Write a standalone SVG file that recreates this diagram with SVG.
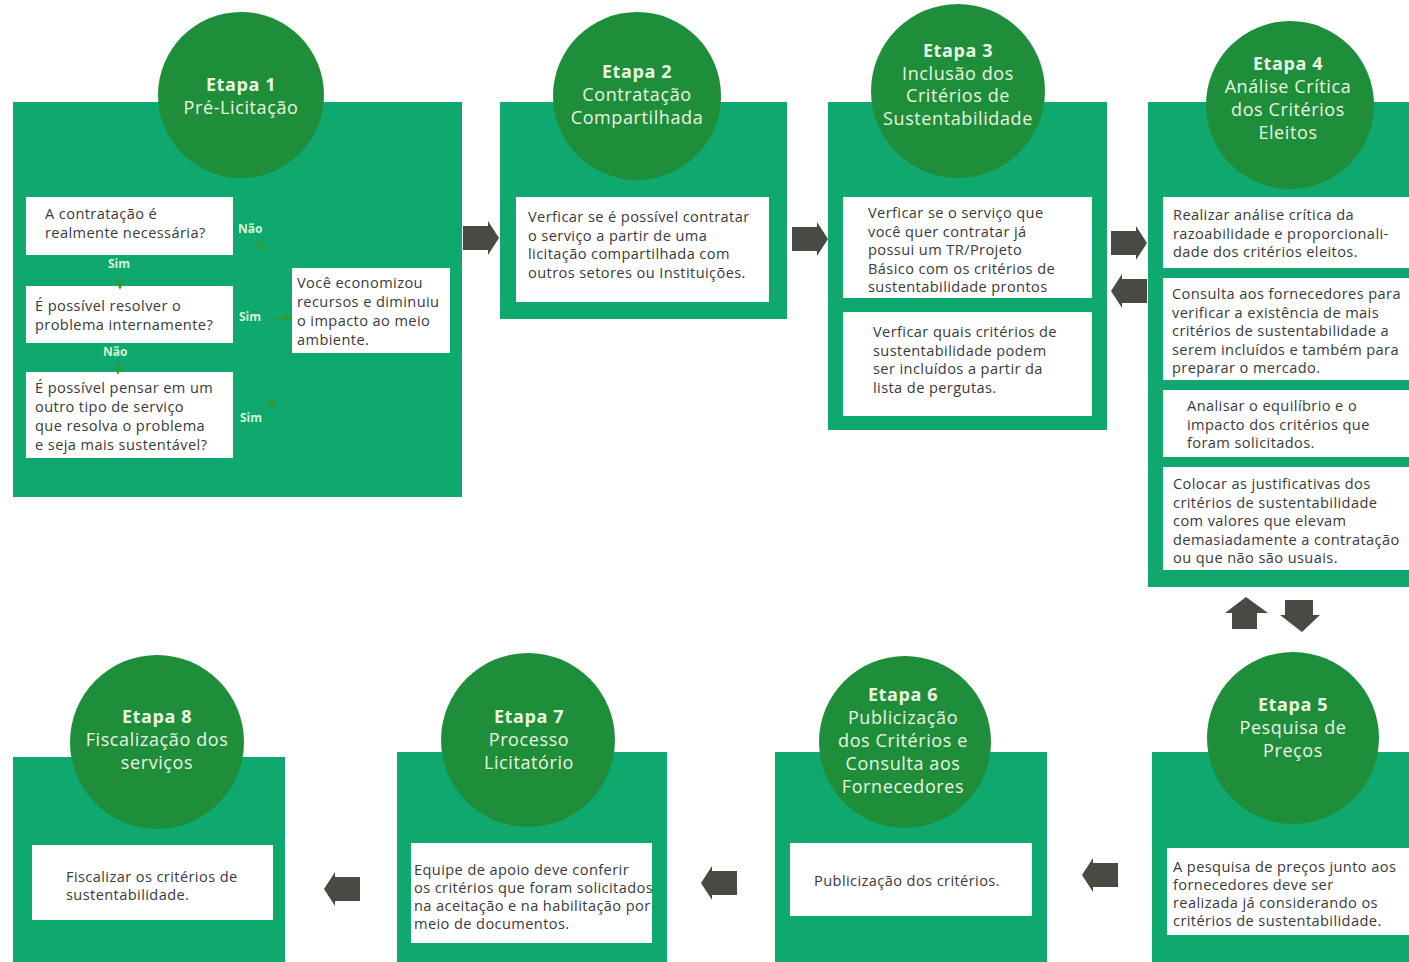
<svg xmlns="http://www.w3.org/2000/svg" xmlns:xlink="http://www.w3.org/1999/xlink" width="1409" height="962" viewBox="0 0 1409 962">
<style>
.panel{fill:#0fa96f}
.circ{fill:#1f8e3b}
.box{fill:#ffffff}
.t{font-family:"Open Sans","Noto Sans",sans-serif;font-size:14.6px;letter-spacing:0.4px;fill:#3a3a3a}
.h{font-family:"Open Sans","Noto Sans",sans-serif;font-size:18px;letter-spacing:0.6px;fill:#eaf7e2;text-anchor:middle}
.hb{font-weight:bold}
.lbl{font-family:"Open Sans","Noto Sans",sans-serif;font-size:12px;font-weight:bold;fill:#d9f3d2}
.arr{fill:#4a4a44}
.mini{stroke:#2e9a3a;stroke-width:1.5;fill:none}
</style>
<defs>
<path id="ar" d="M0,5 H25 V0 L36,17 L25,34 V29 H0 Z"/>
<marker id="mh" viewBox="0 0 10 10" refX="8" refY="5" markerWidth="6" markerHeight="6" orient="auto">
<path d="M0,0 L10,5 L0,10 Z" fill="#2e9a3a"/>
</marker>
</defs>
<rect width="1409" height="962" fill="#ffffff"/>

<g id="etapa1">
<rect class="panel" x="13" y="102" width="449" height="395"/>
<circle class="circ" cx="241" cy="95" r="83"/>
<text class="h" x="241" y="91"><tspan class="hb">Etapa 1</tspan><tspan x="241" dy="23">Pré-Licitação</tspan></text>
<rect class="box" x="26" y="197" width="207" height="58"/>
<text class="t" x="45" y="219">A contratação é<tspan x="45" dy="19">realmente necessária?</tspan></text>
<rect class="box" x="26" y="286" width="207" height="57"/>
<text class="t" x="35" y="311">É possível resolver o<tspan x="35" dy="19">problema internamente?</tspan></text>
<rect class="box" x="26" y="372" width="207" height="86"/>
<text class="t" x="35" y="393">É possível pensar em um<tspan x="35" dy="19">outro tipo de serviço</tspan><tspan x="35" dy="19">que resolva o problema</tspan><tspan x="35" dy="19">e seja mais sustentável?</tspan></text>
<rect class="box" x="292" y="268" width="158" height="85"/>
<text class="t" x="297" y="288">Você economizou<tspan x="297" dy="19">recursos e diminuiu</tspan><tspan x="297" dy="19">o impacto ao meio</tspan><tspan x="297" dy="19">ambiente.</tspan></text>
<text class="lbl" x="238" y="233">Não</text>
<text class="lbl" x="108" y="268">Sim</text>
<text class="lbl" x="239" y="321">Sim</text>
<text class="lbl" x="103" y="356">Não</text>
<text class="lbl" x="240" y="422">Sim</text>
</g>

<g id="etapa2">
<rect class="panel" x="500" y="102" width="287" height="217"/>
<circle class="circ" cx="637" cy="96" r="84"/>
<text class="h" x="637" y="78"><tspan class="hb">Etapa 2</tspan><tspan x="637" dy="23">Contratação</tspan><tspan x="637" dy="22.5">Compartilhada</tspan></text>
<rect class="box" x="516" y="197" width="253" height="105"/>
<text class="t" x="528" y="222">Verficar se é possível contratar<tspan x="528" dy="18.5">o serviço a partir de uma</tspan><tspan x="528" dy="18.5">licitação compartilhada com</tspan><tspan x="528" dy="18.5">outros setores ou Instituições.</tspan></text>
</g>

<g id="etapa3">
<rect class="panel" x="828" y="102" width="279" height="328"/>
<circle class="circ" cx="958" cy="91" r="87"/>
<text class="h" x="958" y="57"><tspan class="hb">Etapa 3</tspan><tspan x="958" dy="22.5">Inclusão dos</tspan><tspan x="958" dy="22.5">Critérios de</tspan><tspan x="958" dy="22.5">Sustentabilidade</tspan></text>
<rect class="box" x="843" y="197" width="249" height="101"/>
<text class="t" x="868" y="218">Verficar se o serviço que<tspan x="868" dy="18.5">você quer contratar já</tspan><tspan x="868" dy="18.5">possui um TR/Projeto</tspan><tspan x="868" dy="18.5">Básico com os critérios de</tspan><tspan x="868" dy="18.5">sustentabilidade prontos</tspan></text>
<rect class="box" x="843" y="312" width="249" height="104"/>
<text class="t" x="873" y="337">Verficar quais critérios de<tspan x="873" dy="18.5">sustentabilidade podem</tspan><tspan x="873" dy="18.5">ser incluídos a partir da</tspan><tspan x="873" dy="18.5">lista de pergutas.</tspan></text>
</g>

<g id="etapa4">
<rect class="panel" x="1148" y="102" width="261" height="485"/>
<circle class="circ" cx="1290" cy="105" r="84"/>
<text class="h" x="1288" y="70"><tspan class="hb">Etapa 4</tspan><tspan x="1288" dy="23">Análise Crítica</tspan><tspan x="1288" dy="23">dos Critérios</tspan><tspan x="1288" dy="22.5">Eleitos</tspan></text>
<rect class="box" x="1163" y="197" width="246" height="71"/>
<text class="t" x="1173" y="220">Realizar análise crítica da<tspan x="1173" dy="18.5">razoabilidade e proporcionali-</tspan><tspan x="1173" dy="18.5">dade dos critérios eleitos.</tspan></text>
<rect class="box" x="1163" y="278" width="246" height="102"/>
<text class="t" x="1172" y="299">Consulta aos fornecedores para<tspan x="1172" dy="18.5">verificar a existência de mais</tspan><tspan x="1172" dy="18.5">critérios de sustentabilidade a</tspan><tspan x="1172" dy="18.5">serem incluídos e também para</tspan><tspan x="1172" dy="18.5">preparar o mercado.</tspan></text>
<rect class="box" x="1163" y="390" width="246" height="67"/>
<text class="t" x="1187" y="411">Analisar o equilíbrio e o<tspan x="1187" dy="18.5">impacto dos critérios que</tspan><tspan x="1187" dy="18.5">foram solicitados.</tspan></text>
<rect class="box" x="1163" y="467" width="246" height="103"/>
<text class="t" x="1173" y="489">Colocar as justificativas dos<tspan x="1173" dy="18.5">critérios de sustentabilidade</tspan><tspan x="1173" dy="18.5">com valores que elevam</tspan><tspan x="1173" dy="18.5">demasiadamente a contratação</tspan><tspan x="1173" dy="18.5">ou que não são usuais.</tspan></text>
</g>

<g id="etapa5">
<rect class="panel" x="1152" y="752" width="257" height="210"/>
<circle class="circ" cx="1293" cy="738" r="86"/>
<text class="h" x="1293" y="711"><tspan class="hb">Etapa 5</tspan><tspan x="1293" dy="23">Pesquisa de</tspan><tspan x="1293" dy="23">Preços</tspan></text>
<rect class="box" x="1167" y="848" width="242" height="87"/>
<text class="t" x="1173" y="872">A pesquisa de preços junto aos<tspan x="1173" dy="18">fornecedores deve  ser</tspan><tspan x="1173" dy="18">realizada já considerando os</tspan><tspan x="1173" dy="18">critérios de sustentabilidade.</tspan></text>
</g>

<g id="etapa6">
<rect class="panel" x="775" y="752" width="272" height="210"/>
<circle class="circ" cx="905" cy="742" r="86"/>
<text class="h" x="903" y="701"><tspan class="hb">Etapa 6</tspan><tspan x="903" dy="23">Publicização</tspan><tspan x="903" dy="23">dos Critérios e</tspan><tspan x="903" dy="23">Consulta aos</tspan><tspan x="903" dy="23">Fornecedores</tspan></text>
<rect class="box" x="790" y="843" width="242" height="73"/>
<text class="t" x="907" y="886" text-anchor="middle">Publicização dos critérios.</text>
</g>

<g id="etapa7">
<rect class="panel" x="397" y="752" width="270" height="210"/>
<circle class="circ" cx="528" cy="740" r="87"/>
<text class="h" x="529" y="723"><tspan class="hb">Etapa 7</tspan><tspan x="529" dy="23">Processo</tspan><tspan x="529" dy="23">Licitatório</tspan></text>
<rect class="box" x="411" y="843" width="241" height="100"/>
<text class="t" x="414" y="875">Equipe de apoio deve conferir<tspan x="414" dy="18">os critérios que foram solicitados</tspan><tspan x="414" dy="18">na aceitação e na habilitação por</tspan><tspan x="414" dy="18">meio de documentos.</tspan></text>
</g>

<g id="etapa8">
<rect class="panel" x="13" y="757" width="272" height="205"/>
<circle class="circ" cx="157" cy="742" r="87"/>
<text class="h" x="157" y="723"><tspan class="hb">Etapa 8</tspan><tspan x="157" dy="23">Fiscalização dos</tspan><tspan x="157" dy="23">serviços</tspan></text>
<rect class="box" x="32" y="845" width="241" height="75"/>
<text class="t" x="66" y="882">Fiscalizar os critérios de<tspan x="66" dy="18">sustentabilidade.</tspan></text>
</g>

<g id="connectors">
<use href="#ar" class="arr" transform="translate(463,221)"/>
<use href="#ar" class="arr" transform="translate(792,222)"/>
<use href="#ar" class="arr" transform="translate(1111,226)"/>
<use href="#ar" class="arr" transform="translate(1147,274) scale(-1,1)"/>
<path class="arr" d="M1232,629 V613 H1225 L1246,597 L1268,613 H1257 V629 Z"/>
<path class="arr" d="M1285,600 H1313 V615 H1320 L1302,632 L1280,615 H1285 Z"/>
<use href="#ar" class="arr" transform="translate(1118,858) scale(-1,1)"/>
<use href="#ar" class="arr" transform="translate(737,866) scale(-1,1)"/>
<use href="#ar" class="arr" transform="translate(360,872) scale(-1,1)"/>
<line class="mini" x1="263" y1="240" x2="258" y2="250" marker-end="url(#mh)"/>
<line class="mini" x1="120" y1="277" x2="120" y2="288" marker-end="url(#mh)"/>
<line class="mini" x1="118" y1="362" x2="118" y2="373" marker-end="url(#mh)"/>
<line class="mini" x1="272" y1="318" x2="290" y2="318" marker-end="url(#mh)"/>
<line class="mini" x1="262" y1="411" x2="275" y2="400" marker-end="url(#mh)"/>
</g>
</svg>
